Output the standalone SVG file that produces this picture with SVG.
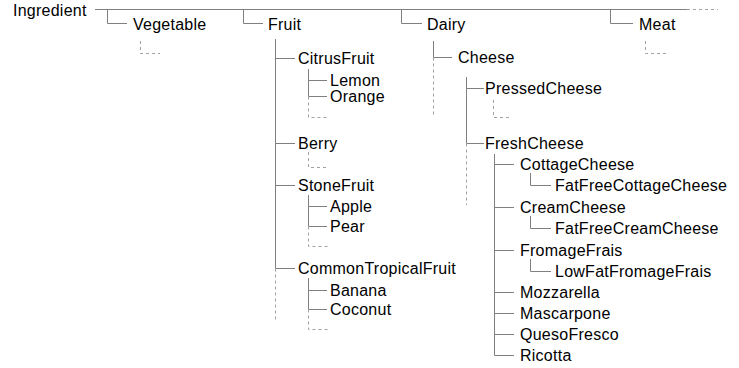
<svg xmlns="http://www.w3.org/2000/svg" width="739" height="368" viewBox="0 0 739 368">
<style>
text{font-family:"Liberation Sans",Arial,sans-serif;font-size:16px;letter-spacing:0.25px;fill:#000}
.s{fill:none;stroke:#808080;stroke-width:1}
.d{fill:none;stroke:#a0a0a0;stroke-width:1;stroke-dasharray:3 3}
</style>
<rect width="739" height="368" fill="#fff"/>
<g id="connectors">
<path class="s" d="M95,9.5H687M107.5,9.5V23.5H127M243.5,9.5V23.5H263M401.5,9.5V23.5H422M610.5,9.5V23.5H633"/>
<path class="d" d="M687,9.5H718M140.5,41V53.5H160M645.5,41V53.5H666"/>
<path class="s" d="M275.5,39V268.5M275.5,58.5H295M308.5,69V96.5M308.5,80.5H327M308.5,96.5H327M275.5,143.5H295M275.5,185.5H295M308.5,195V226.5M308.5,206.5H327M308.5,226.5H327M275.5,268.5H295M308.5,278V309.5M308.5,290.5H327M308.5,309.5H327"/>
<path class="d" d="M275.5,268.5V320M308.5,96.5V117.5H328M308.5,152V167.5H328M308.5,226.5V246.5H328M308.5,309.5V329.5H328"/>
<path class="s" d="M433.5,41V57.5H452M466.5,77V143.5M466.5,88.5H484M466.5,143.5H484M494.5,154V355.5M494.5,164.5H514M530.5,173V185.5H551M494.5,207.5H514M530.5,216V228.5H551M494.5,250.5H514M530.5,259V271.5H551M494.5,292.5H514M494.5,313.5H514M494.5,334.5H514M494.5,355.5H514"/>
<path class="d" d="M433.5,57.5V117M466.5,143.5V205M493.5,100V117.5H511"/>
</g>
<g id="ingredient"><text x="13" y="16">Ingredient</text></g>
<g id="vegetable"><text x="133" y="30">Vegetable</text></g>
<g id="fruit"><text x="268" y="30">Fruit</text></g>
<g id="dairy"><text x="427" y="30">Dairy</text></g>
<g id="meat"><text x="639" y="30">Meat</text></g>
<g id="citrusfruit"><text x="298" y="64">CitrusFruit</text></g>
<g id="lemon"><text x="330" y="86">Lemon</text></g>
<g id="orange"><text x="330" y="102">Orange</text></g>
<g id="berry"><text x="298" y="149">Berry</text></g>
<g id="stonefruit"><text x="298" y="191">StoneFruit</text></g>
<g id="apple"><text x="330" y="212">Apple</text></g>
<g id="pear"><text x="330" y="232">Pear</text></g>
<g id="commontropicalfruit"><text x="298" y="274">CommonTropicalFruit</text></g>
<g id="banana"><text x="330" y="296">Banana</text></g>
<g id="coconut"><text x="330" y="315">Coconut</text></g>
<g id="cheese"><text x="458" y="63">Cheese</text></g>
<g id="pressedcheese"><text x="485" y="94">PressedCheese</text></g>
<g id="freshcheese"><text x="485" y="149">FreshCheese</text></g>
<g id="cottagecheese"><text x="520" y="170">CottageCheese</text></g>
<g id="fatfreecottagecheese"><text x="555" y="191">FatFreeCottageCheese</text></g>
<g id="creamcheese"><text x="520" y="213">CreamCheese</text></g>
<g id="fatfreecreamcheese"><text x="555" y="234">FatFreeCreamCheese</text></g>
<g id="fromagefrais"><text x="520" y="256">FromageFrais</text></g>
<g id="lowfatfromagefrais"><text x="555" y="277">LowFatFromageFrais</text></g>
<g id="mozzarella"><text x="520" y="298">Mozzarella</text></g>
<g id="mascarpone"><text x="520" y="319">Mascarpone</text></g>
<g id="quesofresco"><text x="520" y="340">QuesoFresco</text></g>
<g id="ricotta"><text x="520" y="361">Ricotta</text></g>
</svg>
